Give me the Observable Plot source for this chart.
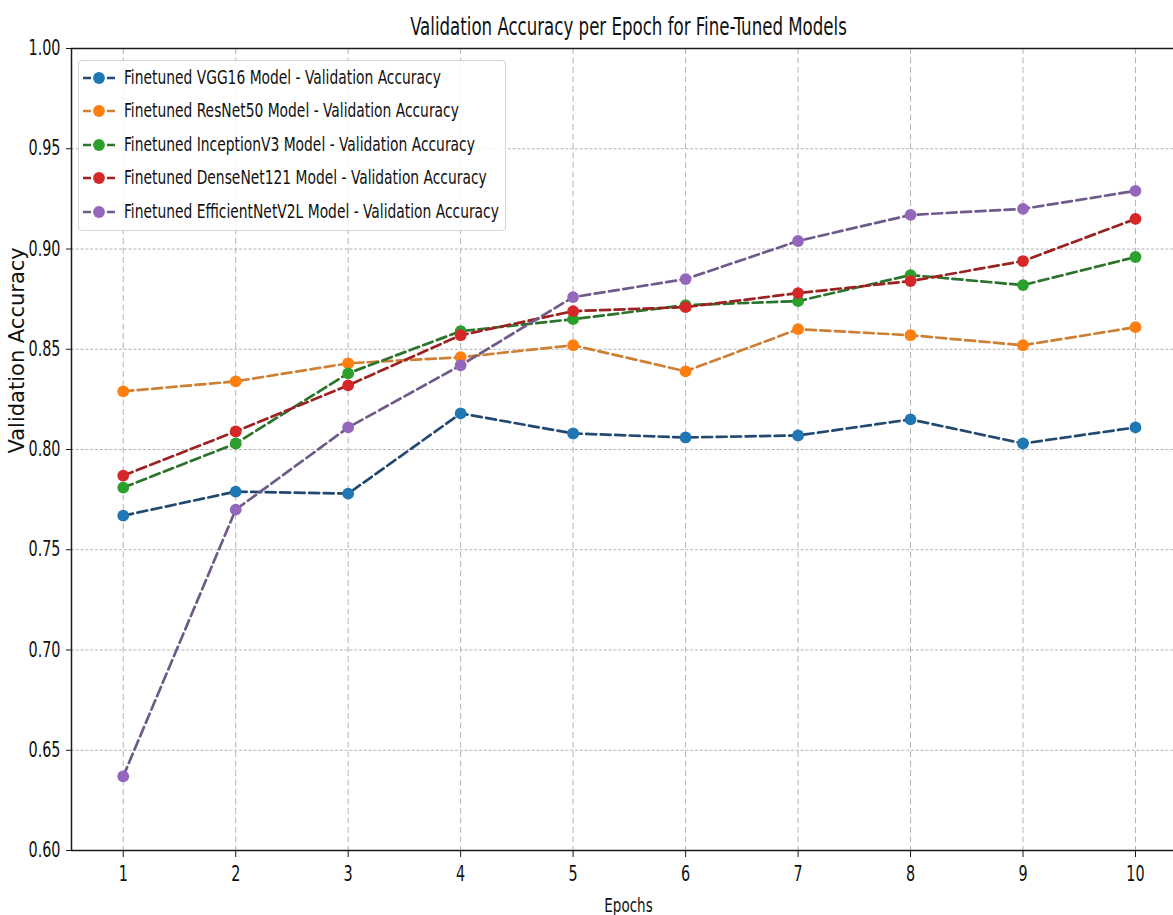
<!DOCTYPE html>
<html>
<head>
<meta charset="utf-8">
<script src="https://cdn.jsdelivr.net/npm/d3@7"></script>
<script src="https://cdn.jsdelivr.net/npm/@observablehq/plot@0.6"></script>
<style>
  html, body { margin: 0; padding: 0; background: #fff; }
  #wrap { position: relative; width: 1173px; height: 915px; overflow: hidden; }
  #legend {
    position: absolute; left: 78px; top: 60px; width: 428px; height: 171px;
    box-sizing: border-box; border: 1px solid #d4d4d4; border-radius: 4px;
    background: rgba(255,255,255,0.85);
    font-family: "DejaVu Sans Condensed", "DejaVu Sans", sans-serif; font-stretch: condensed;
    font-size: 15.4px; color: #111;
  }
  .row { position: absolute; left: 0; height: 20px; display: flex; align-items: center; }
  .row svg { margin-left: 4px; }
  .row span { display: inline-block; margin-left: 9px; transform: scaleY(1.28); white-space: nowrap; }
</style>
</head>
<body>
<div id="wrap"><div id="legend"></div></div>
<script>
const epochs = [1, 2, 3, 4, 5, 6, 7, 8, 9, 10];
const vgg16 = [0.767, 0.779, 0.778, 0.818, 0.808, 0.806, 0.807, 0.815, 0.803, 0.811];
const resnet50 = [0.829, 0.834, 0.843, 0.846, 0.852, 0.839, 0.860, 0.857, 0.852, 0.861];
const inceptionV3 = [0.781, 0.803, 0.838, 0.859, 0.865, 0.872, 0.874, 0.887, 0.882, 0.896];
const denseNet121 = [0.787, 0.809, 0.832, 0.857, 0.869, 0.871, 0.878, 0.884, 0.894, 0.915];
const efficientNetV2L = [0.637, 0.770, 0.811, 0.842, 0.876, 0.885, 0.904, 0.917, 0.920, 0.929];

const seriesNames = [
  "Finetuned VGG16 Model - Validation Accuracy",
  "Finetuned ResNet50 Model - Validation Accuracy",
  "Finetuned InceptionV3 Model - Validation Accuracy",
  "Finetuned DenseNet121 Model - Validation Accuracy",
  "Finetuned EfficientNetV2L Model - Validation Accuracy"
];
const seriesValues = [vgg16, resnet50, inceptionV3, denseNet121, efficientNetV2L];
const markerColors = ["#1f77b4", "#ff7f0e", "#2ca02c", "#d62728", "#9467bd"];
const lineColors = ["#22496f", "#cf7f34", "#2b742b", "#9c2222", "#6e5b8a"];
const yTicks = [0.60, 0.65, 0.70, 0.75, 0.80, 0.85, 0.90, 0.95, 1.00];
const xDomain = [0.54, 10.338];
const yDomain = [0.60, 1.00];

const title = "Validation Accuracy per Epoch for Fine-Tuned Models";
const xLabel = "Epochs";
const yLabel = "Validation Accuracy";

const rows = seriesNames.flatMap((name, s) =>
  epochs.map((e, i) => ({series: name, s, epoch: e, value: seriesValues[s][i]})));

const fontCond = "'DejaVu Sans Condensed', 'DejaVu Sans', sans-serif";

const seriesMarks = seriesNames.flatMap((name, s) => {
  const d = rows.filter(r => r.s === s);
  return [
    Plot.line(d, {x: "epoch", y: "value", stroke: lineColors[s], strokeWidth: 2.7, strokeDasharray: "10,4.5"}),
    Plot.dot(d, {x: "epoch", y: "value", r: 5.9, fill: markerColors[s], stroke: null})
  ];
});

const chart = Plot.plot({
  width: 1173,
  height: 915,
  marginLeft: 71,
  marginRight: 0,
  marginTop: 48,
  marginBottom: 65,
  style: {fontFamily: fontCond, fontSize: "16px", color: "#111", background: "#fff"},
  x: {domain: xDomain},
  y: {domain: yDomain},
  marks: [
    Plot.gridX(epochs, {stroke: "#b4b4b4", strokeOpacity: 1, strokeWidth: 1, strokeDasharray: "6,3.5"}),
    Plot.gridY(yTicks, {stroke: "#b4b4b4", strokeOpacity: 1, strokeWidth: 1, strokeDasharray: "3,1.8"}),
    ...seriesMarks,
    Plot.ruleY([yDomain[0], yDomain[1]], {stroke: "#1a1a1a", strokeWidth: 1.5}),
    Plot.ruleX([xDomain[0]], {stroke: "#1a1a1a", strokeWidth: 1.5}),
    Plot.axisX(epochs, {tickSize: 7, tickPadding: 9, label: null, tickFormat: d => String(d), stroke: "#1a1a1a"}),
    Plot.axisY(yTicks, {tickSize: 5, tickPadding: 6, label: null, tickFormat: d3.format(".2f"), stroke: "#1a1a1a"}),
    Plot.text([title], {frameAnchor: "top", dx: 6, dy: -14, lineAnchor: "bottom", fontSize: 18.5, fill: "#111"}),
    Plot.text([xLabel], {frameAnchor: "bottom", dx: 6, dy: 61, lineAnchor: "bottom", fontSize: 15, fill: "#111"}),
    Plot.text([yLabel], {frameAnchor: "left", dx: -54, dy: 4, rotate: -90, fontSize: 21, fontFamily: "'DejaVu Sans', sans-serif", fill: "#111"})
  ]
});

// stretch non-rotated text vertically like the reference
chart.querySelectorAll("text").forEach(t => {
  const tr = t.getAttribute("transform") || "";
  if (tr.includes("translate") && !tr.includes("rotate")) {
    t.setAttribute("transform", tr + " scale(1,1.3)");
  }
});

const wrap = document.getElementById("wrap");
wrap.insertBefore(chart, wrap.firstChild);

// legend
const legend = d3.select("#legend");
const rowCenters = [17, 50, 84, 117, 151];
seriesNames.forEach((name, s) => {
  const row = legend.append("div").attr("class", "row").style("top", (rowCenters[s] - 10) + "px");
  const sv = row.append("svg").attr("width", 32).attr("height", 16);
  sv.append("line").attr("x1", 0).attr("x2", 32).attr("y1", 8).attr("y2", 8)
    .attr("stroke", lineColors[s]).attr("stroke-width", 2.7).attr("stroke-dasharray", "8,16,8");
  sv.append("circle").attr("cx", 16).attr("cy", 8).attr("r", 5.9).attr("fill", markerColors[s]);
  row.append("span").text(name);
});
</script>
</body>
</html>
